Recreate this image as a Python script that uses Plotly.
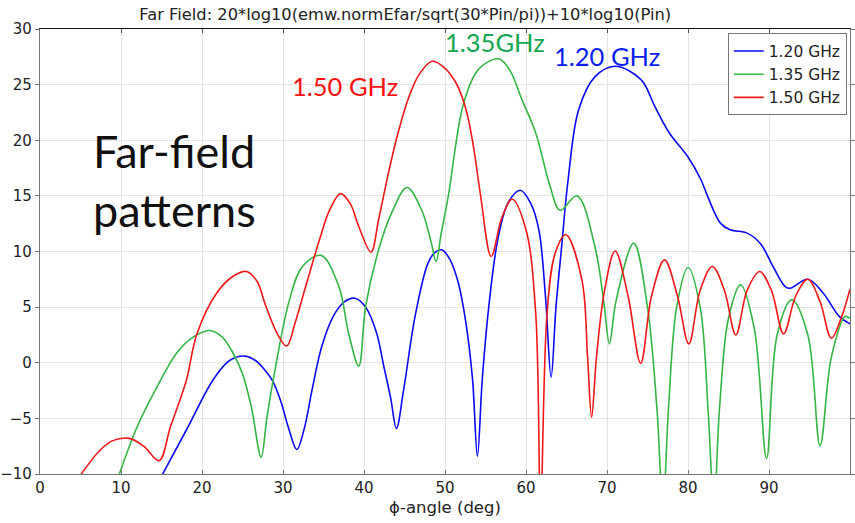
import plotly.graph_objects as go

# ---- data ----
phi_120 = [15.0, 18.1, 21.4, 23.4, 25.3, 26.6, 27.7, 28.7, 29.7, 30.7, 31.7, 32.6, 33.6, 34.8, 36.3, 37.6, 38.9, 40.2, 41.5,
           42.5, 43.3, 44.0, 44.9, 46.3, 47.9, 48.8, 49.6, 50.6, 51.6, 52.6, 53.4, 54.0, 54.6, 55.4, 56.5, 57.8, 59.3,
           60.6, 61.6, 62.4, 63.1, 63.7, 64.4, 65.2, 66.5, 68.5, 71.0, 74.2, 75.9, 77.7, 80.0, 81.6, 82.4, 84.0, 85.2,
           87.3, 88.9, 90.5, 92.0, 92.6, 94.8, 96.7, 98.7, 100.0]
gain_120 = [-10.2, -6.0, -1.5, 0.2, 0.6, 0.2, -0.6, -1.6, -3.4, -5.9, -7.8, -6.0, -2.4, 1.5, 4.3, 5.5, 5.8, 5.0, 2.8,
            -0.5, -3.2, -5.9, -2.4, 4.15, 8.96, 9.95, 10.15, 9.3, 7.3, 3.5, -1.5, -8.4, -1.5, 5.0, 11.0, 14.4, 15.5,
            14.3, 11.9, 6.0, -1.3, 5.0, 10.45, 16.45, 22.75, 25.7, 26.65, 25.45, 23.05, 20.65, 18.5, 16.45, 15.0, 12.55, 11.95,
            11.65, 10.75, 8.65, 6.85, 6.7, 7.5, 6.25, 4.15, 3.5]

phi_135 = [9.7, 12.0, 14.5, 16.9, 18.9, 20.9, 22.5, 23.8, 25.0, 26.1, 27.3, 28.0, 28.8, 30.8, 32.4, 34.7, 36.9, 38.1,
           39.35, 40.2, 41.8, 43.4, 45.3, 47.1, 48.3, 48.9, 49.5, 50.4, 52.2, 53.8, 55.2, 56.7, 58.0, 59.5, 61.2, 63.0,
           64.2, 66.3, 68.5, 69.6, 70.3, 71.1, 73.3, 75.0, 76.2, 76.9, 77.6, 78.6, 80.0, 81.5, 82.5, 83.2, 83.9, 85.0,
           86.5, 88.2, 89.7, 91.0, 92.8, 94.8, 96.3, 97.7, 99.4, 100.0]
gain_135 = [-10.2, -5.75, -2.1, 0.9, 2.3, 2.9, 2.3, 0.9, -1.0, -4.0, -8.5, -5.0, -1.5, 5.65, 8.65, 9.65, 6.85, 2.65,
            -0.3, 5.05, 10.15, 13.45, 15.75, 13.75, 10.8, 9.1, 11.5, 14.95, 23.05, 26.05, 27.0, 27.3, 26.3, 23.65, 20.65, 15.8,
            13.7, 15.0, 10.45, 5.5, 1.7, 5.5, 10.75, 5.0, -4.5, -13.0, -4.0, 5.0, 8.56, 5.0, -4.5, -13.0, -4.0, 4.0,
            7.0, 3.0, -8.6, 2.5, 5.65, 2.5, -7.45, 0.5, 4.15, 4.0]

phi_150 = [4.9, 7.5, 9.0, 11.0, 12.8, 14.7, 16.1, 17.3, 18.1, 19.4, 21.8, 23.8, 25.5, 26.8, 27.9, 29.3, 30.45, 31.5,
           32.8, 34.5, 35.8, 37.1, 38.3, 39.35, 40.86, 41.8, 43.0, 44.2, 45.5, 46.8, 48.4, 49.8, 51.4, 52.6, 53.5, 54.4,
           55.7, 57.0, 58.3, 60.0, 61.2, 61.8, 62.6, 63.6, 64.9, 66.9, 67.6, 68.1, 68.7, 69.7, 71.0, 72.6, 74.15, 75.5,
           77.1, 78.7, 80.1, 81.5, 83.0, 84.5, 85.9, 87.3, 88.85, 90.3, 91.8, 93.3, 94.8, 96.3, 97.7, 98.9, 100.0]
gain_150 = [-10.2, -7.8, -7.0, -6.8, -7.5, -8.8, -5.75, -3.3, -1.5, 2.65, 6.25, 7.75, 8.2, 7.3, 5.05, 2.6, 1.5, 3.6,
            6.85, 11.05, 13.8, 15.2, 14.3, 12.25, 9.95, 12.85, 17.0, 20.65, 23.8, 25.9, 27.1, 26.6, 25.1, 22.75, 19.5, 15.0,
            9.55, 13.0, 14.7, 11.95, 4.45, -13.0, 4.45, 9.85, 11.5, 7.45, 0.5, -4.9, 0.5, 6.5, 10.05, 6.0, -0.05, 6.0,
            9.25, 6.0, 1.7, 6.5, 8.65, 6.5, 2.5, 6.5, 8.2, 6.5, 2.6, 6.0, 7.5, 5.5, 2.2, 4.0, 6.6]

series = [
    ("1.20 GHz", phi_120, gain_120, "#0a0af5"),
    ("1.35 GHz", phi_135, gain_135, "#35b545"),
    ("1.50 GHz", phi_150, gain_150, "#f01818"),
]

x_ticks = [0, 10, 20, 30, 40, 50, 60, 70, 80, 90]
y_ticks = [-10, -5, 0, 5, 10, 15, 20, 25, 30]

fig = go.Figure()
for name, xs, ys, col in series:
    fig.add_trace(go.Scatter(x=xs, y=ys, mode="lines", name=name,
                             line=dict(color=col, width=1.6, shape="spline", smoothing=1.0)))

# top frame line as a mirrored overlay axis
fig.add_trace(go.Scatter(x=[0], y=[0], xaxis="x2", showlegend=False, mode="markers",
                         marker=dict(opacity=0), hoverinfo="skip"))

tickfont = dict(family="DejaVu Sans", size=15, color="#222")
fig.update_layout(
    width=855, height=523,
    margin=dict(l=39, r=0, t=29, b=49),
    paper_bgcolor="white", plot_bgcolor="white",
    title=dict(text="Far Field: 20*log10(emw.normEfar/sqrt(30*Pin/pi))+10*log10(Pin)",
               x=0.474, xanchor="center", y=0.972, yanchor="middle",
               font=dict(family="DejaVu Sans", size=16.3, color="#222")),
    xaxis=dict(range=[0, 100], tickvals=x_ticks, showgrid=True, gridcolor="#e4e4e4", gridwidth=1,
               zeroline=False, showline=True, linecolor="#777", linewidth=1.2,
               ticks="inside", ticklen=4, tickcolor="#777", tickfont=tickfont,
               title=dict(text="ϕ-angle (deg)", font=dict(family="DejaVu Sans", size=16.5, color="#222"), standoff=5)),
    xaxis2=dict(range=[0, 100], overlaying="x", side="top", tickvals=x_ticks, showticklabels=False,
                showline=True, linecolor="#111", linewidth=1.4, ticks="inside", ticklen=4, tickcolor="#555",
                showgrid=False, zeroline=False),
    yaxis=dict(range=[-10, 30], tickvals=y_ticks, showgrid=True, gridcolor="#e4e4e4", gridwidth=1,
               zeroline=False, showline=True, linecolor="#777", linewidth=1.2, mirror="ticks",
               ticks="outside", ticklen=4, tickcolor="#777", tickfont=tickfont),
    legend=dict(x=0.996, y=0.99, xanchor="right", yanchor="top", bgcolor="white",
                bordercolor="#777", borderwidth=1, font=dict(family="DejaVu Sans", size=15.5, color="#222"),
                itemwidth=30, tracegroupgap=0),
    showlegend=True,
)

ann_font = "Lato"
fig.add_annotation(x=37.7, y=24.9, text="1.50 GHz", showarrow=False,
                   font=dict(family=ann_font, size=25.5, color="#ff1010"))
fig.add_annotation(x=56.2, y=28.8, text="1.35GHz", showarrow=False,
                   font=dict(family=ann_font, size=25.5, color="#16a650"))
fig.add_annotation(x=70.0, y=27.6, text="1.20 GHz", showarrow=False,
                   font=dict(family=ann_font, size=25.5, color="#0a1eef"))
fig.add_annotation(x=6.3, y=16.4, text="Far-field<br>patterns", showarrow=False, xanchor="left", align="left",
                   font=dict(family=ann_font, size=45, color="#111"))

fig.write_html("out.html")
